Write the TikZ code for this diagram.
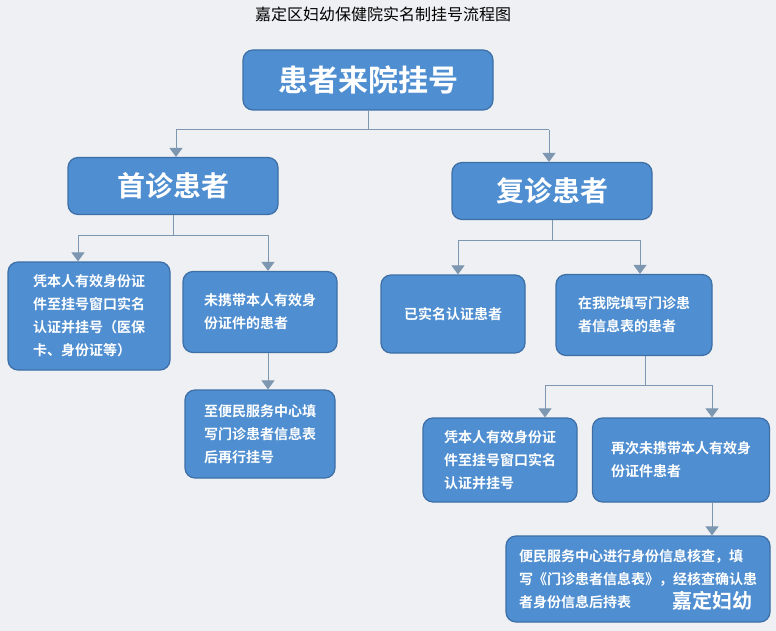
\documentclass[tikz,border=0pt]{standalone}
\usepackage{fontspec}
\setmainfont{Noto Sans CJK SC}
\newfontfamily\cjkb{Noto Sans CJK SC Bold}
\usetikzlibrary{arrows.meta}
\definecolor{bg}{HTML}{EEF0F3}
\definecolor{boxf}{HTML}{4F8ED0}
\definecolor{boxd}{HTML}{3D6FA6}
\definecolor{ln}{HTML}{7D97B0}
\tikzset{
 bx/.style={draw=boxd,line width=1.2pt,fill=boxf,rounded corners=10pt,text=white,font=\cjkb\fontsize{14}{23}\selectfont,align=left,inner sep=0pt},
 hd/.style={bx,font=\cjkb\fontsize{28}{30}\selectfont,align=center},
 con/.style={draw=ln,line width=1pt},
 arr/.style={con,-{Triangle[width=13pt,length=9pt]}}
}
\begin{document}
\begin{tikzpicture}[x=1pt,y=-1pt]
\fill[bg] (0,0) rectangle (776,631);
\useasboundingbox (0,0) rectangle (776,631);
\node[font=\fontsize{16}{18}\selectfont] (t) at (383,14) {嘉定区妇幼保健院实名制挂号流程图};
\node[hd,minimum width=250,minimum height=60,font=\cjkb\fontsize{30}{32}\selectfont] (top) at (368,80) {患者来院挂号};
\node[hd,minimum width=210,minimum height=57] (s1) at (173,186) {首诊患者};
\node[hd,minimum width=200,minimum height=57] (s2) at (552,191) {复诊患者};
\node[bx,minimum width=162,minimum height=108] (a) at (89,316) {凭本人有效身份证\\件至挂号窗口实名\\认证并挂号（医保\\卡、身份证等）};
\node[bx,minimum width=154,minimum height=81] (b) at (260,312) {未携带本人有效身\\份证件的患者};
\node[bx,minimum width=150,minimum height=88] (c) at (260,434) {至便民服务中心填\\写门诊患者信息表\\后再行挂号};
\node[bx,minimum width=144,minimum height=78] (d) at (453,314) {已实名认证患者};
\node[bx,minimum width=156,minimum height=81] (e) at (634,315) {在我院填写门诊患\\者信息表的患者};
\node[bx,minimum width=154,minimum height=84] (f) at (500,460) {凭本人有效身份证\\件至挂号窗口实名\\认证并挂号};
\node[bx,minimum width=177,minimum height=84] (g) at (681,460) {再次未携带本人有效身\\份证件患者};
\node[bx,minimum width=264,minimum height=86] (h) at (638,579) {便民服务中心进行身份信息核查，填\\写《门诊患者信息表》，经核查确认患\\者身份信息后持表\phantom{至挂号处挂号}};
\node[text=white,font=\cjkb\fontsize{20}{22}\selectfont] (wm) at (712,601) {嘉定妇幼};
\coordinate (t1) at (368,130);
\draw[con] (top.south) -- (t1);
\draw[con] (176,130) -- (549,130);
\draw[arr] (176,130) -- (s1.north -| 176,0);
\draw[arr] (549,130) -- (s2.north -| 549,0);
\draw[con] (s1.south) -- (173,235);
\draw[con] (78,235) -- (268,235);
\draw[arr] (78,235) -- (a.north -| 78,0);
\draw[arr] (268,235) -- (b.north -| 268,0);
\draw[con] (s2.south) -- (552,240);
\draw[con] (458,240) -- (640,240);
\draw[arr] (458,240) -- (d.north -| 458,0);
\draw[arr] (640,240) -- (e.north -| 640,0);
\draw[arr] (b.south -| 268,0) -- (c.north -| 268,0);
\draw[con] (e.south -| 645,0) -- (645,385);
\draw[con] (545,385) -- (712,385);
\draw[arr] (545,385) -- (f.north -| 545,0);
\draw[arr] (712,385) -- (g.north -| 712,0);
\draw[arr] (g.south -| 712,0) -- (h.north -| 712,0);
\end{tikzpicture}
\end{document}
